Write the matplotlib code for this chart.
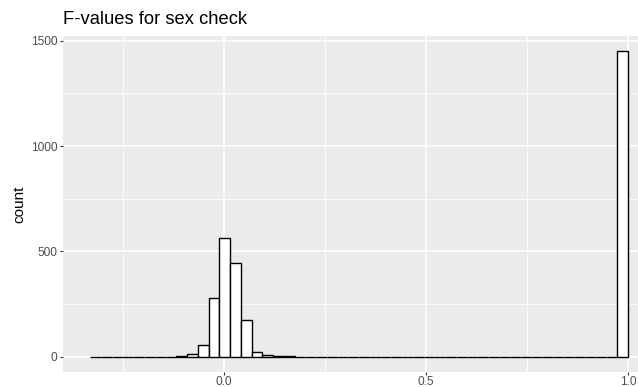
import numpy as np
import matplotlib.pyplot as plt

plt.rcParams['font.family'] = ['Liberation Sans', 'DejaVu Sans']

# histogram data (50 bins between min and max F value)
f_min = -0.331
f_max = 1.0
n_bins = 50
counts = [1, 0, 0, 0, 1, 0, 1, 1, 2, 11,
          57, 278, 563, 443, 176, 24, 9, 3, 2, 1,
          1, 1, 0, 1, 0, 1, 0, 0, 1, 0,
          1, 0, 0, 1, 0, 0, 1, 0, 0, 0,
          1, 0, 0, 0, 0, 1, 0, 0, 1, 1450]
x_ticks = [0.0, 0.5, 1.0]
x_labels = ['0.0', '0.5', '1.0']
y_ticks = [0, 500, 1000, 1500]

edges = np.linspace(f_min, f_max, n_bins + 1)
centers = (edges[:-1] + edges[1:]) / 2

fig = plt.figure(figsize=(6.38, 3.87), dpi=100)
# panel runs past the right edge, like the cropped original
ax = fig.add_axes([63.3 / 638, 15 / 387, (655 - 63.3) / 638, 336 / 387])
ax.set_facecolor('#EBEBEB')

ax.hist(centers, bins=edges, weights=counts, facecolor='white',
        edgecolor='black', linewidth=1.0, zorder=3)

span = f_max - f_min
ax.set_xlim(f_min - 0.05 * span, f_max + 0.05 * span)
top = max(counts)
ax.set_ylim(-0.05 * top, top * 1.05)

ax.set_xticks(x_ticks)
ax.set_xticklabels(x_labels)
ax.set_yticks(y_ticks)
ax.set_xticks([-0.25, 0.25, 0.75], minor=True)
ax.set_yticks([250, 750, 1250], minor=True)
ax.grid(True, which='major', color='white', linewidth=1.1, zorder=0)
ax.grid(True, which='minor', color='white', linewidth=0.55, zorder=0)
ax.set_axisbelow(True)
for s in ax.spines.values():
    s.set_visible(False)
ax.tick_params(which='major', length=2.3, width=0.8, color='#333333',
               labelsize=8.6, labelcolor='#4D4D4D', pad=2)
ax.tick_params(axis='x', which='major', pad=0.8)
ax.tick_params(which='minor', length=0)

fig.text(63.3 / 638, 1 - 20 / 387, 'F-values for sex check', fontsize=13.2,
         ha='left', va='center', color='black')
fig.text(19 / 638, 1 - 204 / 387, 'count', fontsize=11, rotation=90,
         ha='center', va='center', color='black')

plt.savefig('out.png', dpi=100)
